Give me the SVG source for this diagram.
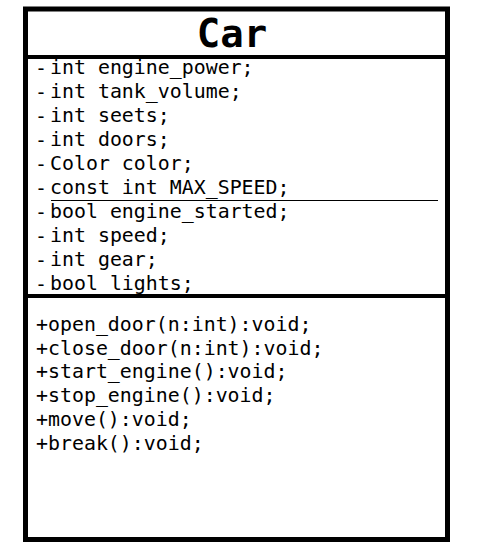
<svg xmlns="http://www.w3.org/2000/svg" width="487" height="551" viewBox="0 0 487 551">
  <style>
    .frame { fill: #ffffff; stroke: #000000; stroke-width: 5; }
    .divider { stroke: #000000; stroke-width: 4; }
    .thin { stroke: #000000; stroke-width: 1; }
    .title { font-family: "DejaVu Sans Mono", "Liberation Mono", monospace; font-size: 39px; font-weight: bold; fill: #000000; }
    .member { font-family: "DejaVu Sans Mono", "Liberation Mono", monospace; font-size: 19.9px; fill: #000000; }
    .bullet { font-family: "DejaVu Sans Mono", "Liberation Mono", monospace; font-size: 19.9px; fill: #000000; }
  </style>
  <rect width="487" height="551" fill="#ffffff"/>
  <g id="car-class">
    <rect class="frame" x="25.5" y="9" width="422" height="530.5"/>
    <line class="divider" x1="25.5" y1="57" x2="447.5" y2="57"/>
    <line class="divider" x1="25.5" y1="296" x2="447.5" y2="296"/>
    <line class="thin" x1="51" y1="200.5" x2="438" y2="200.5"/>
    <text class="title" x="232" y="47" text-anchor="middle">Car</text>
    <g id="attributes" class="member">
      <text class="bullet" x="35" y="75">-</text><text x="50" y="74">int engine_power;</text>
      <text class="bullet" x="35" y="99">-</text><text x="50" y="98">int tank_volume;</text>
      <text class="bullet" x="35" y="123">-</text><text x="50" y="122">int seets;</text>
      <text class="bullet" x="35" y="147">-</text><text x="50" y="146">int doors;</text>
      <text class="bullet" x="35" y="171">-</text><text x="50" y="170">Color color;</text>
      <text class="bullet" x="35" y="195">-</text><text x="50" y="194">const int MAX_SPEED;</text>
      <text class="bullet" x="35" y="219">-</text><text x="50" y="218">bool engine_started;</text>
      <text class="bullet" x="35" y="243">-</text><text x="50" y="242">int speed;</text>
      <text class="bullet" x="35" y="267">-</text><text x="50" y="266">int gear;</text>
      <text class="bullet" x="35" y="291">-</text><text x="50" y="290">bool lights;</text>
    </g>
    <g id="operations" class="member">
      <text x="36" y="331">+open_door(n:int):void;</text>
      <text x="36" y="354.7">+close_door(n:int):void;</text>
      <text x="36" y="378.4">+start_engine():void;</text>
      <text x="36" y="402.1">+stop_engine():void;</text>
      <text x="36" y="425.8">+move():void;</text>
      <text x="36" y="449.5">+break():void;</text>
    </g>
  </g>
  <g id="connectors"/>
</svg>
